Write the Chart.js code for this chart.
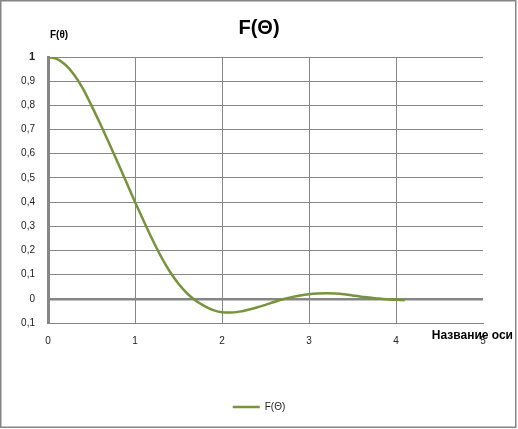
<!DOCTYPE html>
<html>
<head>
<meta charset="utf-8">
<script src="https://cdn.jsdelivr.net/npm/chart.js@4/dist/chart.umd.min.js"></script>
<style>
html,body{margin:0;padding:0;background:#fff;}
canvas{display:block;}
</style>
</head>
<body>
<canvas id="c" width="518" height="429"></canvas>
<script>
const chartTitle = 'F(Θ)';
const seriesName = 'F(Θ)';
const yAxisTitle = 'F(θ)';
const xAxisTitle = 'Название оси';
const xValues = [0,0.1,0.2,0.3,0.4,0.5,0.6,0.7,0.8,0.9,1.0,1.1,1.2,1.3,1.4,1.5,1.6,1.7,1.8,1.9,2.0,2.1,2.2,2.3,2.4,2.5,2.6,2.7,2.8,2.9,3.0,3.1,3.2,3.3,3.4,3.5,3.6,3.7,3.8,3.9,4.0,4.1];
const yValues = [1.0,0.992,0.968,0.927,0.87,0.799,0.724,0.645,0.565,0.483,0.40,0.322,0.245,0.174,0.113,0.062,0.022,-0.008,-0.03,-0.047,-0.056,-0.057,-0.053,-0.045,-0.036,-0.025,-0.013,-0.002,0.007,0.014,0.019,0.022,0.023,0.022,0.019,0.014,0.009,0.005,0.001,-0.002,-0.004,-0.006];
const xTickLabels = ['0','1','2','3','4','5'];
const yTickLabels = ['0,1','0','0,1','0,2','0,3','0,4','0,5','0,6','0,7','0,8','0,9','1'];

const points = xValues.map((x, i) => ({x: x, y: yValues[i]}));
const GRID = '#868686';
const OLIVE = '#77933C';
const FONT = '"Liberation Sans", Arial, sans-serif';

const extras = {
  id: 'extras',
  afterDraw(chart) {
    const ctx = chart.ctx;
    ctx.save();
    ctx.fillStyle = '#000';
    ctx.textBaseline = 'middle';
    ctx.textAlign = 'left';
    ctx.font = 'bold 10px ' + FONT;
    ctx.fillText(yAxisTitle, 50, 35);
    ctx.font = 'bold 12px ' + FONT;
    ctx.textAlign = 'right';
    ctx.fillText(xAxisTitle, 513, 336);
    ctx.strokeStyle = GRID;
    ctx.lineWidth = 1.5;
    ctx.strokeRect(0.75, 0.75, 515, 426.5);
    ctx.restore();
  }
};

new Chart(document.getElementById('c'), {
  type: 'scatter',
  data: {
    datasets: [{
      label: seriesName,
      data: points,
      showLine: true,
      borderColor: OLIVE,
      backgroundColor: OLIVE,
      borderWidth: 2.5,
      pointRadius: 0,
      pointHoverRadius: 0,
      pointStyle: 'line',
      cubicInterpolationMode: 'monotone',
      fill: false
    }]
  },
  options: {
    responsive: false,
    devicePixelRatio: 1,
    animation: false,
    layout: { padding: { left: 0, right: 0, top: 6, bottom: 7 } },
    plugins: {
      title: {
        display: true,
        text: chartTitle,
        color: '#000',
        font: { family: FONT, size: 20, weight: 'bold' },
        padding: { top: 10, bottom: 17 }
      },
      legend: {
        display: true,
        position: 'bottom',
        labels: {
          usePointStyle: true,
          pointStyle: 'line',
          pointStyleWidth: 27,
          color: '#222',
          font: { family: FONT, size: 10 },
          padding: 10
        }
      },
      tooltip: { enabled: false }
    },
    scales: {
      x: {
        type: 'linear',
        min: 0, max: 5,
        afterFit(scale) { scale.height = 69; },
        ticks: {
          stepSize: 1,
          padding: 12,
          color: '#222',
          font: { family: FONT, size: 10 },
          callback: (v, i) => xTickLabels[i]
        },
        grid: {
          drawTicks: false,
          color: ctx => (ctx.tick && ctx.tick.value === 5) ? 'rgba(0,0,0,0)' : GRID,
          lineWidth: 1
        },
        border: { display: true, color: GRID, width: 1 }
      },
      y: {
        type: 'linear',
        min: -0.1, max: 1,
        afterFit(scale) { scale.width = 48; },
        ticks: {
          stepSize: 0.1,
          padding: 13,
          color: '#222',
          font: ctx => (ctx.index === 11)
            ? { family: FONT, size: 11, weight: 'bold' }
            : { family: FONT, size: 10 },
          callback: (v, i) => yTickLabels[i]
        },
        grid: {
          drawTicks: false,
          color: GRID,
          lineWidth: ctx => (ctx.tick && Math.abs(ctx.tick.value) < 1e-9) ? 2.5 : 1
        },
        border: { display: true, color: GRID, width: 3 }
      },
      yRight: {
        type: 'linear',
        position: 'right',
        display: true,
        min: 0, max: 1,
        afterFit(scale) { scale.width = 35; },
        ticks: { display: false },
        grid: { display: false, drawTicks: false },
        border: { display: false }
      }
    }
  },
  plugins: [extras]
});
</script>
</body>
</html>
